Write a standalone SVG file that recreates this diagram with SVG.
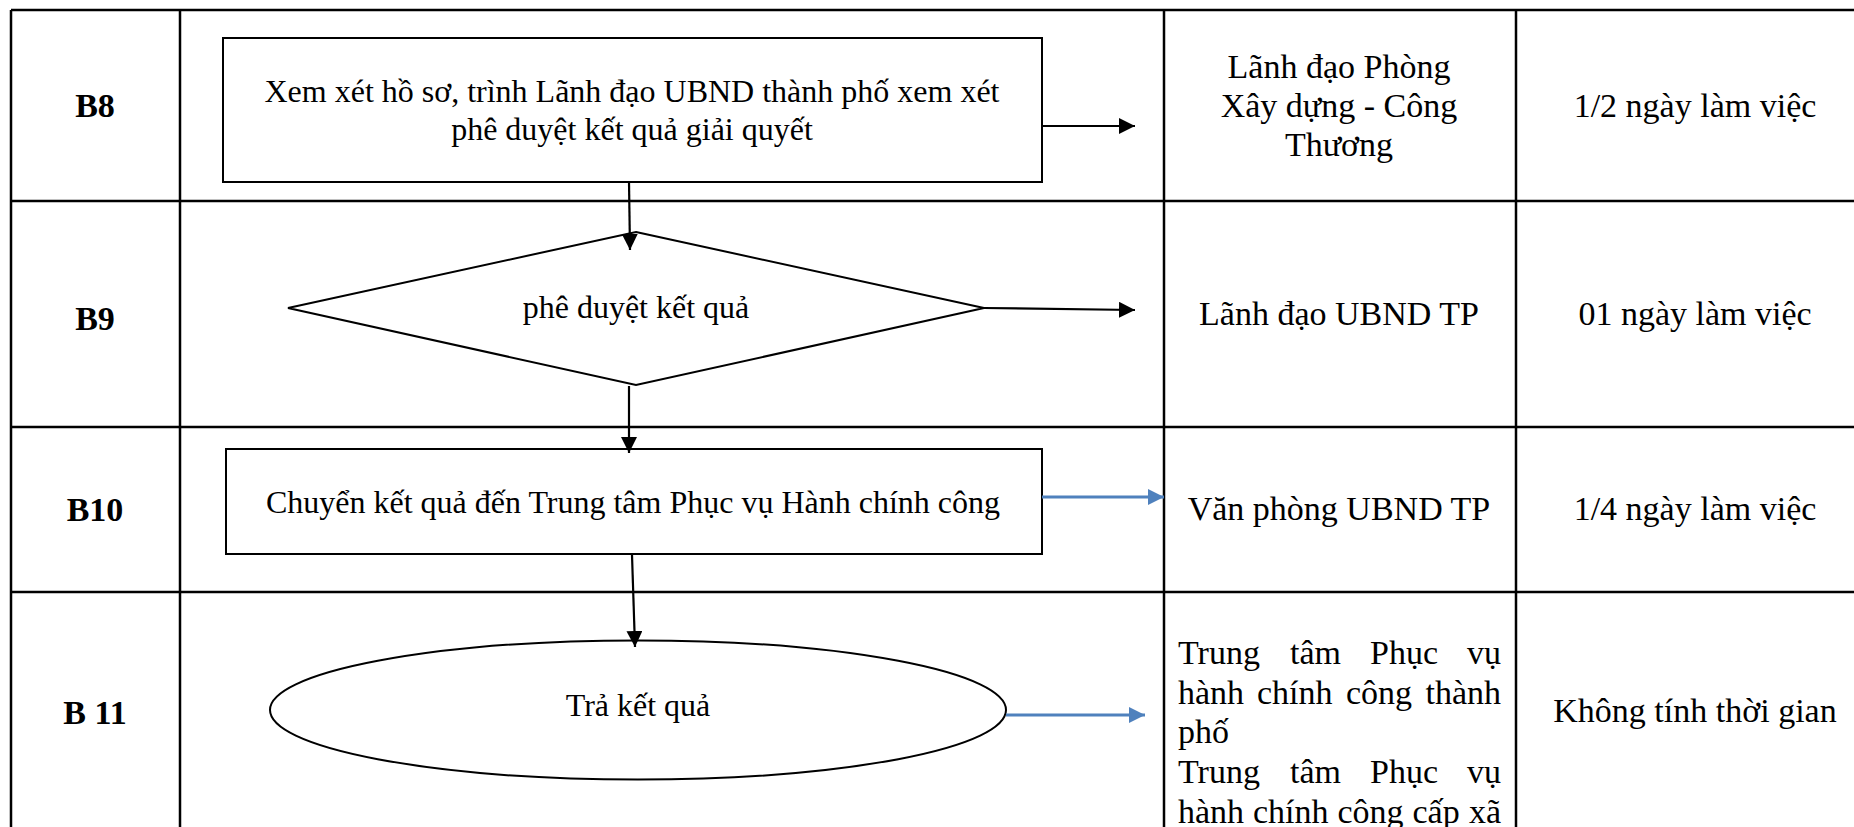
<svg xmlns="http://www.w3.org/2000/svg" width="1854" height="827" viewBox="0 0 1854 827">
  <style>
    .grid { stroke: #000; stroke-width: 2.5; fill: none; }
    .shape { fill: #fff; stroke: #000; stroke-width: 2; }
    .lbl { font-family: "Liberation Serif", "Times New Roman", serif; font-weight: bold; font-size: 34px; fill: #000; text-anchor: middle; }
    .nt { font-family: "Liberation Serif", "Times New Roman", serif; font-size: 32px; fill: #000; text-anchor: middle; }
    .ct { font-family: "Liberation Serif", "Times New Roman", serif; font-size: 34px; fill: #000; text-anchor: middle; }
    .jt { font-family: "Liberation Serif", "Times New Roman", serif; font-size: 34px; fill: #000; }
    .ak { stroke: #000; stroke-width: 2.2; fill: none; marker-end: url(#arrK); }
    .ab { stroke: #4F81BD; stroke-width: 2.8; fill: none; marker-end: url(#arrB); }
  </style>
  <defs>
    <marker id="arrK" markerUnits="userSpaceOnUse" markerWidth="16" markerHeight="16" refX="16" refY="8" orient="auto">
      <path d="M0,0 L16,8 L0,16 Z" fill="#000"/>
    </marker>
    <marker id="arrB" markerUnits="userSpaceOnUse" markerWidth="16" markerHeight="16" refX="16" refY="8" orient="auto">
      <path d="M0,0 L16,8 L0,16 Z" fill="#4F81BD"/>
    </marker>
  </defs>
  <rect width="1854" height="827" fill="#fff"/>

  <g id="table">
    <line class="grid" x1="11" y1="10" x2="1854" y2="10"/>
    <line class="grid" x1="11" y1="201" x2="1854" y2="201"/>
    <line class="grid" x1="11" y1="427" x2="1854" y2="427"/>
    <line class="grid" x1="11" y1="592" x2="1854" y2="592"/>
    <line class="grid" x1="11" y1="10" x2="11" y2="827"/>
    <line class="grid" x1="180" y1="10" x2="180" y2="827"/>
    <line class="grid" x1="1164" y1="10" x2="1164" y2="827"/>
    <line class="grid" x1="1516" y1="10" x2="1516" y2="827"/>
  </g>

  <g id="row-B8">
    <text class="lbl" x="95" y="117">B8</text>
    <text class="ct" x="1339" y="78">Lãnh đạo Phòng</text>
    <text class="ct" x="1339" y="117">Xây dựng - Công</text>
    <text class="ct" x="1339" y="156">Thương</text>
    <text class="ct" x="1695" y="117">1/2 ngày làm việc</text>
  </g>
  <g id="row-B9">
    <text class="lbl" x="95" y="330">B9</text>
    <text class="ct" x="1339" y="325">Lãnh đạo UBND TP</text>
    <text class="ct" x="1695" y="325">01 ngày làm việc</text>
  </g>
  <g id="row-B10">
    <text class="lbl" x="95" y="521">B10</text>
    <text class="ct" x="1339" y="520">Văn phòng UBND TP</text>
    <text class="ct" x="1695" y="520">1/4 ngày làm việc</text>
  </g>
  <g id="row-B11">
    <text class="lbl" x="95" y="724">B 11</text>
    <text class="jt" y="664"><tspan x="1178">Trung</tspan><tspan x="1290">tâm</tspan><tspan x="1370">Phục</tspan><tspan x="1467">vụ</tspan></text>
    <text class="jt" y="703.5"><tspan x="1178">hành</tspan><tspan x="1257">chính</tspan><tspan x="1346">công</tspan><tspan x="1425.5">thành</tspan></text>
    <text class="jt" x="1178" y="743">phố</text>
    <text class="jt" y="783"><tspan x="1178">Trung</tspan><tspan x="1290">tâm</tspan><tspan x="1370">Phục</tspan><tspan x="1467">vụ</tspan></text>
    <text class="jt" y="822.5"><tspan x="1178">hành</tspan><tspan x="1253">chính</tspan><tspan x="1337.5">công</tspan><tspan x="1412.5">cấp</tspan><tspan x="1469">xã</tspan></text>
    <text class="ct" x="1695" y="722">Không tính thời gian</text>
  </g>

  <g id="node-b8">
    <rect class="shape" x="223" y="38" width="819" height="144"/>
    <text class="nt" x="632" y="102">Xem xét hồ sơ, trình Lãnh đạo UBND thành phố xem xét</text>
    <text class="nt" x="632" y="140">phê duyệt kết quả giải quyết</text>
  </g>
  <g id="node-b9">
    <polygon class="shape" points="636,232 984,308 636,385 288,308"/>
    <text class="nt" x="636" y="318">phê duyệt kết quả</text>
  </g>
  <g id="node-b10">
    <rect class="shape" x="226" y="449" width="816" height="105"/>
    <text class="nt" x="633" y="513">Chuyển kết quả đến Trung tâm Phục vụ Hành chính công</text>
  </g>
  <g id="node-b11">
    <ellipse class="shape" cx="638" cy="710" rx="368" ry="69.5"/>
    <text class="nt" x="638" y="716">Trả kết quả</text>
  </g>

  <g id="connectors">
    <line class="ak" x1="629" y1="182" x2="630" y2="250"/>
    <line class="ak" x1="629" y1="386" x2="629" y2="453"/>
    <line class="ak" x1="632" y1="555" x2="635" y2="647"/>
    <line class="ak" x1="1042" y1="126" x2="1135" y2="126"/>
    <line class="ak" x1="984" y1="308" x2="1135" y2="310"/>
    <line class="ab" x1="1042" y1="497" x2="1164" y2="497"/>
    <line class="ab" x1="1006" y1="715" x2="1145" y2="715"/>
  </g>
</svg>
